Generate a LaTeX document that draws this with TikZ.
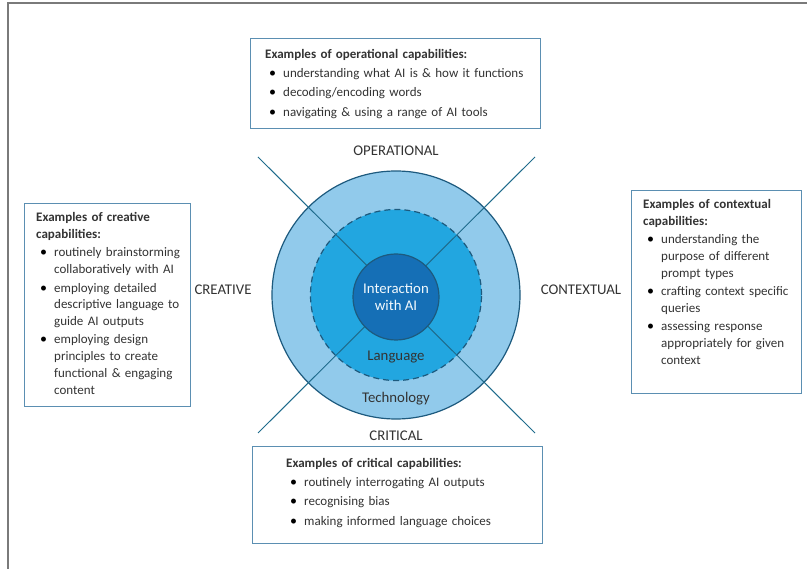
\documentclass[tikz,border=0pt]{standalone}
\usepackage{fontspec}
\setmainfont{Carlito}
\usepackage{enumitem}
\setlist[itemize]{label={\color{black}\fontsize{14}{14}\selectfont\textbullet},leftmargin=18pt,labelsep=7pt,topsep=2pt,itemsep=2pt,parsep=0pt,partopsep=0pt}

\definecolor{ringlight}{HTML}{91CAEB}
\definecolor{ringmid}{HTML}{22A6E0}
\definecolor{ringcore}{HTML}{156FB6}
\definecolor{ringedge}{HTML}{1D5A7E}
\definecolor{crossline}{HTML}{1F6B8C}
\definecolor{boxedge}{HTML}{5B8FB2}
\definecolor{labeltext}{HTML}{333333}
\definecolor{framegray}{HTML}{7A7A7A}

\tikzset{
    capbox/.style={draw=boxedge, line width=1.2pt, fill=white, anchor=north west, inner sep=0pt},
    captext/.style={anchor=north west, inner sep=0pt, text width=#1, align=left, text=labeltext,
        font=\fontsize{13}{16.8}\selectfont},
    axislabel/.style={text=labeltext, font=\fontsize{14.8}{17}\selectfont},
    ring/.style={circle, inner sep=0pt, draw=ringedge, line width=1.2pt}
}

\begin{document}
\begin{tikzpicture}[x=1pt, y=-1pt]
    \useasboundingbox (0,0) rectangle (807,569);
    \draw[framegray, line width=1.8pt] (8,569) -- (8,3) -- (807,3);

    % cross ends
    \coordinate (nw) at (258,157); \coordinate (ne) at (535,157);
    \coordinate (sw) at (258,433); \coordinate (se) at (535,433);

    \node[ring, fill=ringlight, minimum size=248pt] (technology) at (396,295) {};
    \node[ring, fill=ringmid, dash pattern=on 6pt off 4pt, minimum size=171pt] (language) at (396,295) {};
    \draw[crossline, line width=1pt] (nw)--(se); \draw[crossline, line width=1pt] (ne)--(sw);
    \node[ring, fill=ringcore, minimum size=86pt, align=center, text=white!88!ringlight,
        font=\fontsize{14.8}{17}\selectfont] (core) at (396,297) {Interaction\\with AI};

    \node[axislabel, text=black!80] (langlabel) at (396,357.5) {Language};
    \node[axislabel, text=black!80] (techlabel) at (396,398.5) {Technology};

    \node[axislabel] (operational) at (396,151) {OPERATIONAL};
    \node[axislabel] (creative) at (223,290) {CREATIVE};
    \node[axislabel] (contextual) at (581,290) {CONTEXTUAL};
    \node[axislabel] (critical) at (396,436) {CRITICAL};

    % boxes
    \node[capbox, minimum width=290pt, minimum height=90pt] (opbox) at (250,38) {};
    \node[capbox, minimum width=166pt, minimum height=203pt] (crbox) at (24,203) {};
    \node[capbox, minimum width=170pt, minimum height=203pt] (ctbox) at (631,190) {};
    \node[capbox, minimum width=290pt, minimum height=97pt] (cibox) at (252,446) {};

    \node[captext=265pt] (optext) at (265,49) {\textbf{Examples of operational capabilities:}
        \begin{itemize}[itemsep=3pt]
            \item understanding what AI is \& how it functions
            \item decoding/encoding words
            \item navigating \& using a range of AI tools
        \end{itemize}};
    \node[captext=160pt] (crtext) at (36,212) {\textbf{Examples of creative\\capabilities:}
        \begin{itemize}[itemsep=1.5pt]
            \item routinely brainstorming\\collaboratively with AI
            \item employing detailed\\descriptive language to\\guide AI outputs
            \item employing design\\principles to create\\functional \& engaging\\content
        \end{itemize}};
    \node[captext=160pt] (cttext) at (643,199) {\textbf{Examples of contextual\\capabilities:}
        \begin{itemize}[itemsep=1.5pt]
            \item understanding the\\purpose of different\\prompt types
            \item crafting context specific\\queries
            \item assessing response\\appropriately for given\\context
        \end{itemize}};
    \node[captext=250pt] (citext) at (286,458) {\textbf{Examples of critical capabilities:}
        \begin{itemize}[itemsep=3pt]
            \item routinely interrogating AI outputs
            \item recognising bias
            \item making informed language choices
        \end{itemize}};
\end{tikzpicture}
\end{document}
